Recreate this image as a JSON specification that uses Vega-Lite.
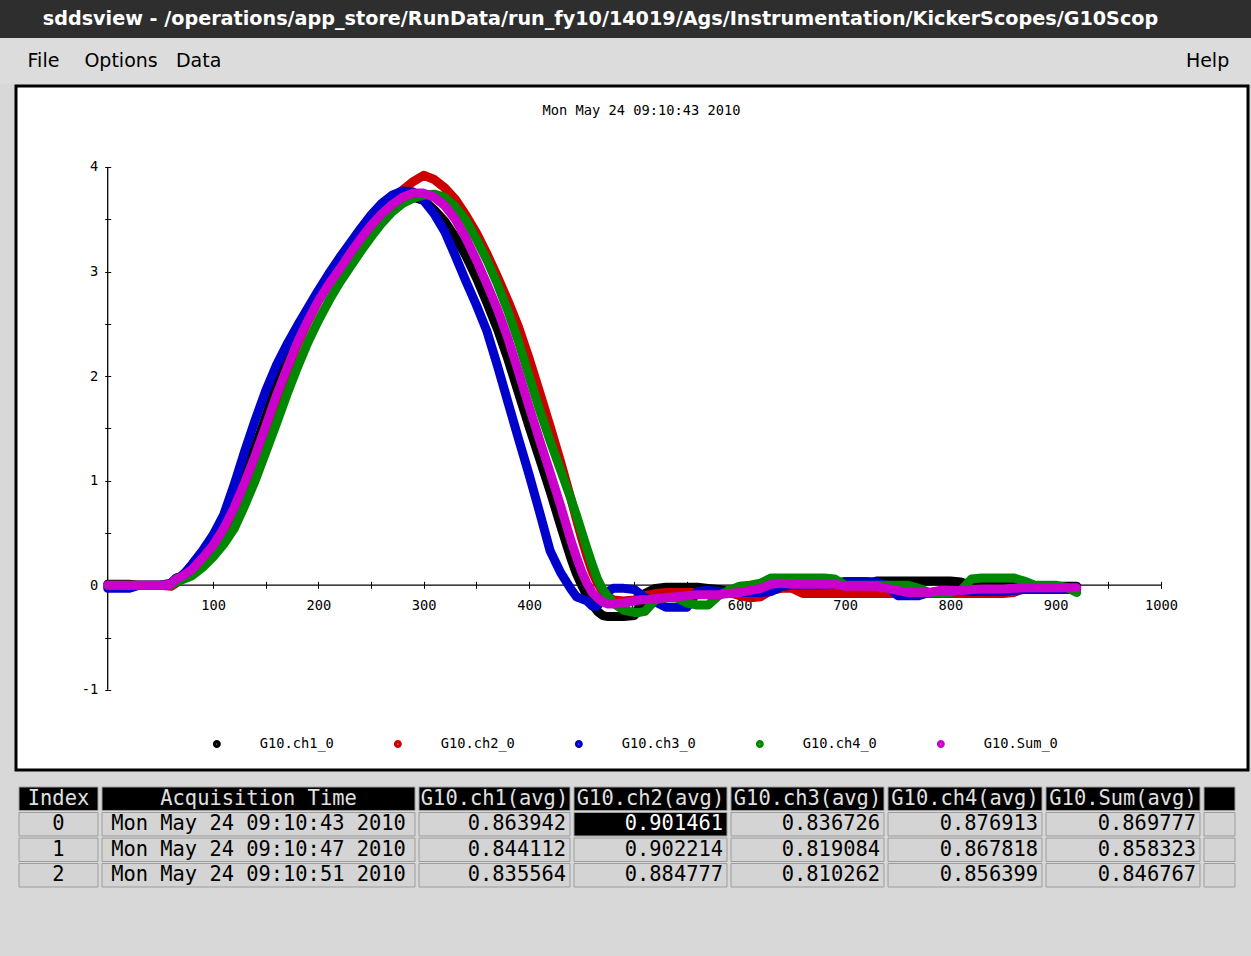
{
  "$schema": "https://vega.github.io/schema/vega-lite/v6.json",
  "background": "#d8d8d8",
  "padding": 0,
  "spacing": 0,
  "config": {"view": {"stroke": null}, "concat": {"spacing": 0}, "font": "DejaVu Sans Mono"},
  "datasets": {
    "wave": [
      {"t":0,"ch1":0.01,"ch2":0,"ch3":-0.03,"ch4":0,"sum":0},
      {"t":10,"ch1":0.01,"ch2":0,"ch3":-0.03,"ch4":0,"sum":0},
      {"t":20,"ch1":0.01,"ch2":0,"ch3":-0.03,"ch4":0,"sum":0},
      {"t":30,"ch1":0,"ch2":0,"ch3":0,"ch4":0,"sum":0},
      {"t":40,"ch1":0,"ch2":0,"ch3":0,"ch4":0,"sum":0},
      {"t":50,"ch1":0,"ch2":0,"ch3":0,"ch4":0,"sum":0},
      {"t":60,"ch1":0.01,"ch2":-0.01,"ch3":0.02,"ch4":0,"sum":0.01},
      {"t":65,"ch1":0.06,"ch2":0.02,"ch3":0.07,"ch4":0.03,"sum":0.06},
      {"t":70,"ch1":0.09,"ch2":0.07,"ch3":0.08,"ch4":0.05,"sum":0.08},
      {"t":80,"ch1":0.17,"ch2":0.13,"ch3":0.20,"ch4":0.09,"sum":0.15},
      {"t":90,"ch1":0.29,"ch2":0.23,"ch3":0.33,"ch4":0.17,"sum":0.26},
      {"t":100,"ch1":0.42,"ch2":0.35,"ch3":0.48,"ch4":0.27,"sum":0.38},
      {"t":110,"ch1":0.59,"ch2":0.50,"ch3":0.67,"ch4":0.39,"sum":0.54},
      {"t":120,"ch1":0.81,"ch2":0.69,"ch3":0.96,"ch4":0.54,"sum":0.74},
      {"t":130,"ch1":1.05,"ch2":0.92,"ch3":1.28,"ch4":0.76,"sum":0.98},
      {"t":140,"ch1":1.32,"ch2":1.17,"ch3":1.58,"ch4":1.00,"sum":1.24},
      {"t":150,"ch1":1.61,"ch2":1.45,"ch3":1.86,"ch4":1.27,"sum":1.52},
      {"t":160,"ch1":1.91,"ch2":1.75,"ch3":2.10,"ch4":1.54,"sum":1.81},
      {"t":170,"ch1":2.16,"ch2":2.04,"ch3":2.30,"ch4":1.82,"sum":2.07},
      {"t":180,"ch1":2.39,"ch2":2.30,"ch3":2.48,"ch4":2.08,"sum":2.32},
      {"t":190,"ch1":2.60,"ch2":2.52,"ch3":2.65,"ch4":2.32,"sum":2.53},
      {"t":200,"ch1":2.78,"ch2":2.72,"ch3":2.82,"ch4":2.53,"sum":2.72},
      {"t":210,"ch1":2.94,"ch2":2.89,"ch3":2.98,"ch4":2.72,"sum":2.88},
      {"t":220,"ch1":3.08,"ch2":3.03,"ch3":3.13,"ch4":2.89,"sum":3.02},
      {"t":230,"ch1":3.22,"ch2":3.19,"ch3":3.27,"ch4":3.04,"sum":3.17},
      {"t":240,"ch1":3.36,"ch2":3.34,"ch3":3.41,"ch4":3.19,"sum":3.31},
      {"t":250,"ch1":3.48,"ch2":3.48,"ch3":3.54,"ch4":3.33,"sum":3.44},
      {"t":260,"ch1":3.58,"ch2":3.60,"ch3":3.65,"ch4":3.46,"sum":3.55},
      {"t":270,"ch1":3.65,"ch2":3.70,"ch3":3.73,"ch4":3.57,"sum":3.64},
      {"t":280,"ch1":3.70,"ch2":3.78,"ch3":3.77,"ch4":3.65,"sum":3.71},
      {"t":290,"ch1":3.71,"ch2":3.86,"ch3":3.76,"ch4":3.70,"sum":3.75},
      {"t":300,"ch1":3.68,"ch2":3.92,"ch3":3.68,"ch4":3.73,"sum":3.75},
      {"t":310,"ch1":3.59,"ch2":3.88,"ch3":3.55,"ch4":3.74,"sum":3.71},
      {"t":320,"ch1":3.48,"ch2":3.80,"ch3":3.38,"ch4":3.71,"sum":3.63},
      {"t":330,"ch1":3.33,"ch2":3.69,"ch3":3.15,"ch4":3.62,"sum":3.50},
      {"t":340,"ch1":3.15,"ch2":3.54,"ch3":2.91,"ch4":3.49,"sum":3.32},
      {"t":350,"ch1":2.94,"ch2":3.37,"ch3":2.68,"ch4":3.31,"sum":3.11},
      {"t":360,"ch1":2.70,"ch2":3.17,"ch3":2.43,"ch4":3.11,"sum":2.88},
      {"t":370,"ch1":2.45,"ch2":2.95,"ch3":2.10,"ch4":2.88,"sum":2.64},
      {"t":380,"ch1":2.16,"ch2":2.72,"ch3":1.75,"ch4":2.62,"sum":2.36},
      {"t":390,"ch1":1.84,"ch2":2.47,"ch3":1.40,"ch4":2.33,"sum":2.04},
      {"t":400,"ch1":1.52,"ch2":2.17,"ch3":1.06,"ch4":2.00,"sum":1.71},
      {"t":410,"ch1":1.21,"ch2":1.85,"ch3":0.70,"ch4":1.68,"sum":1.39},
      {"t":420,"ch1":0.90,"ch2":1.52,"ch3":0.33,"ch4":1.38,"sum":1.08},
      {"t":430,"ch1":0.57,"ch2":1.18,"ch3":0.12,"ch4":1.10,"sum":0.76},
      {"t":440,"ch1":0.25,"ch2":0.82,"ch3":-0.04,"ch4":0.82,"sum":0.42},
      {"t":445,"ch1":0.11,"ch2":0.63,"ch3":-0.11,"ch4":0.67,"sum":0.27},
      {"t":450,"ch1":0.00,"ch2":0.45,"ch3":-0.13,"ch4":0.51,"sum":0.13},
      {"t":455,"ch1":-0.10,"ch2":0.28,"ch3":-0.15,"ch4":0.35,"sum":0.02},
      {"t":460,"ch1":-0.18,"ch2":0.13,"ch3":-0.20,"ch4":0.20,"sum":-0.07},
      {"t":465,"ch1":-0.25,"ch2":0.02,"ch3":-0.20,"ch4":0.06,"sum":-0.12},
      {"t":470,"ch1":-0.29,"ch2":-0.06,"ch3":-0.12,"ch4":-0.04,"sum":-0.16},
      {"t":475,"ch1":-0.30,"ch2":-0.11,"ch3":-0.06,"ch4":-0.11,"sum":-0.18},
      {"t":480,"ch1":-0.30,"ch2":-0.14,"ch3":-0.03,"ch4":-0.17,"sum":-0.18},
      {"t":490,"ch1":-0.30,"ch2":-0.15,"ch3":-0.03,"ch4":-0.24,"sum":-0.17},
      {"t":500,"ch1":-0.29,"ch2":-0.14,"ch3":-0.04,"ch4":-0.26,"sum":-0.15},
      {"t":505,"ch1":-0.20,"ch2":-0.12,"ch3":-0.08,"ch4":-0.26,"sum":-0.14},
      {"t":510,"ch1":-0.08,"ch2":-0.10,"ch3":-0.12,"ch4":-0.25,"sum":-0.14},
      {"t":520,"ch1":-0.03,"ch2":-0.08,"ch3":-0.16,"ch4":-0.14,"sum":-0.13},
      {"t":530,"ch1":-0.02,"ch2":-0.07,"ch3":-0.21,"ch4":-0.12,"sum":-0.12},
      {"t":540,"ch1":-0.02,"ch2":-0.07,"ch3":-0.21,"ch4":-0.12,"sum":-0.11},
      {"t":550,"ch1":-0.02,"ch2":-0.07,"ch3":-0.21,"ch4":-0.17,"sum":-0.10},
      {"t":560,"ch1":-0.02,"ch2":-0.07,"ch3":-0.06,"ch4":-0.19,"sum":-0.09},
      {"t":570,"ch1":-0.03,"ch2":-0.07,"ch3":-0.05,"ch4":-0.19,"sum":-0.09},
      {"t":580,"ch1":-0.04,"ch2":-0.07,"ch3":-0.06,"ch4":-0.10,"sum":-0.09},
      {"t":590,"ch1":-0.06,"ch2":-0.07,"ch3":-0.07,"ch4":-0.05,"sum":-0.08},
      {"t":600,"ch1":-0.06,"ch2":-0.10,"ch3":-0.07,"ch4":-0.01,"sum":-0.07},
      {"t":610,"ch1":-0.04,"ch2":-0.12,"ch3":-0.07,"ch4":0.00,"sum":-0.05},
      {"t":620,"ch1":-0.02,"ch2":-0.11,"ch3":-0.07,"ch4":0.02,"sum":-0.03},
      {"t":630,"ch1":0.00,"ch2":-0.05,"ch3":-0.06,"ch4":0.07,"sum":0.01},
      {"t":640,"ch1":0.00,"ch2":-0.03,"ch3":-0.01,"ch4":0.07,"sum":0.02},
      {"t":650,"ch1":0.00,"ch2":-0.03,"ch3":0.00,"ch4":0.07,"sum":0.01},
      {"t":660,"ch1":0.00,"ch2":-0.08,"ch3":0.00,"ch4":0.07,"sum":0.01},
      {"t":670,"ch1":0.00,"ch2":-0.08,"ch3":0.00,"ch4":0.07,"sum":0.01},
      {"t":680,"ch1":0.00,"ch2":-0.08,"ch3":0.00,"ch4":0.07,"sum":0.01},
      {"t":690,"ch1":0.00,"ch2":-0.08,"ch3":0.02,"ch4":0.06,"sum":0.01},
      {"t":700,"ch1":0.00,"ch2":-0.08,"ch3":0.035,"ch4":0.00,"sum":-0.01},
      {"t":710,"ch1":0.00,"ch2":-0.08,"ch3":0.035,"ch4":0.00,"sum":-0.01},
      {"t":720,"ch1":0.01,"ch2":-0.08,"ch3":0.035,"ch4":0.00,"sum":-0.01},
      {"t":730,"ch1":0.04,"ch2":-0.08,"ch3":0.03,"ch4":0.00,"sum":-0.01},
      {"t":740,"ch1":0.04,"ch2":-0.08,"ch3":0.00,"ch4":0.00,"sum":-0.03},
      {"t":750,"ch1":0.04,"ch2":-0.08,"ch3":-0.10,"ch4":0.00,"sum":-0.05},
      {"t":760,"ch1":0.04,"ch2":-0.08,"ch3":-0.10,"ch4":0.00,"sum":-0.07},
      {"t":770,"ch1":0.04,"ch2":-0.08,"ch3":-0.10,"ch4":-0.03,"sum":-0.07},
      {"t":780,"ch1":0.04,"ch2":-0.08,"ch3":-0.07,"ch4":-0.07,"sum":-0.07},
      {"t":790,"ch1":0.04,"ch2":-0.08,"ch3":-0.06,"ch4":-0.07,"sum":-0.05},
      {"t":800,"ch1":0.04,"ch2":-0.08,"ch3":-0.06,"ch4":-0.07,"sum":-0.05},
      {"t":810,"ch1":0.03,"ch2":-0.08,"ch3":-0.06,"ch4":-0.05,"sum":-0.05},
      {"t":820,"ch1":0.00,"ch2":-0.08,"ch3":-0.06,"ch4":0.06,"sum":-0.04},
      {"t":830,"ch1":-0.01,"ch2":-0.08,"ch3":-0.06,"ch4":0.07,"sum":-0.035},
      {"t":840,"ch1":-0.01,"ch2":-0.08,"ch3":-0.06,"ch4":0.07,"sum":-0.035},
      {"t":850,"ch1":-0.01,"ch2":-0.08,"ch3":-0.06,"ch4":0.07,"sum":-0.035},
      {"t":860,"ch1":-0.01,"ch2":-0.07,"ch3":-0.05,"ch4":0.07,"sum":-0.03},
      {"t":870,"ch1":-0.01,"ch2":-0.03,"ch3":-0.04,"ch4":0.04,"sum":-0.025},
      {"t":880,"ch1":-0.01,"ch2":-0.03,"ch3":-0.04,"ch4":0.00,"sum":-0.025},
      {"t":890,"ch1":-0.01,"ch2":-0.03,"ch3":-0.04,"ch4":0.00,"sum":-0.025},
      {"t":900,"ch1":-0.01,"ch2":-0.03,"ch3":-0.04,"ch4":0.00,"sum":-0.025},
      {"t":910,"ch1":-0.01,"ch2":-0.03,"ch3":-0.04,"ch4":-0.02,"sum":-0.025},
      {"t":920,"ch1":-0.01,"ch2":-0.03,"ch3":-0.04,"ch4":-0.07,"sum":-0.025}
    ],
    "menu": [{"item":"File"},{"item":"Options"},{"item":"Data"},{"item":"Help"}],
    "table": [
      {"col":"Index","row":"h","kind":"header","label":"Index"},
      {"col":"Index","row":"0","kind":"cell","label":"0"},
      {"col":"Index","row":"1","kind":"cell","label":"1"},
      {"col":"Index","row":"2","kind":"cell","label":"2"},
      {"col":"Time","row":"h","kind":"header","label":"Acquisition Time"},
      {"col":"Time","row":"0","kind":"cell","label":"Mon May 24 09:10:43 2010"},
      {"col":"Time","row":"1","kind":"cell","label":"Mon May 24 09:10:47 2010"},
      {"col":"Time","row":"2","kind":"cell","label":"Mon May 24 09:10:51 2010"},
      {"col":"ch1","row":"h","kind":"header","label":"G10.ch1(avg)"},
      {"col":"ch1","row":"0","kind":"cell","label":"0.863942"},
      {"col":"ch1","row":"1","kind":"cell","label":"0.844112"},
      {"col":"ch1","row":"2","kind":"cell","label":"0.835564"},
      {"col":"ch2","row":"h","kind":"header","label":"G10.ch2(avg)"},
      {"col":"ch2","row":"0","kind":"selected","label":"0.901461"},
      {"col":"ch2","row":"1","kind":"cell","label":"0.902214"},
      {"col":"ch2","row":"2","kind":"cell","label":"0.884777"},
      {"col":"ch3","row":"h","kind":"header","label":"G10.ch3(avg)"},
      {"col":"ch3","row":"0","kind":"cell","label":"0.836726"},
      {"col":"ch3","row":"1","kind":"cell","label":"0.819084"},
      {"col":"ch3","row":"2","kind":"cell","label":"0.810262"},
      {"col":"ch4","row":"h","kind":"header","label":"G10.ch4(avg)"},
      {"col":"ch4","row":"0","kind":"cell","label":"0.876913"},
      {"col":"ch4","row":"1","kind":"cell","label":"0.867818"},
      {"col":"ch4","row":"2","kind":"cell","label":"0.856399"},
      {"col":"Sum","row":"h","kind":"header","label":"G10.Sum(avg)"},
      {"col":"Sum","row":"0","kind":"cell","label":"0.869777"},
      {"col":"Sum","row":"1","kind":"cell","label":"0.858323"},
      {"col":"Sum","row":"2","kind":"cell","label":"0.846767"},
      {"col":"blank","row":"h","kind":"header","label":""},
      {"col":"blank","row":"0","kind":"cell","label":""},
      {"col":"blank","row":"1","kind":"cell","label":""},
      {"col":"blank","row":"2","kind":"cell","label":""}
    ]
  },
  "vconcat": [
    {
      "width": 1251, "height": 38,
      "view": {"fill": "#2e2e2e"},
      "data": {"values": [{"t": "sddsview - /operations/app_store/RunData/run_fy10/14019/Ags/Instrumentation/KickerScopes/G10Scop"}]},
      "mark": {"type": "text", "font": "DejaVu Sans", "fontWeight": "bold", "fontSize": 19.2, "color": "#ffffff", "dx": -25},
      "encoding": {"text": {"field": "t"}}
    },
    {
      "width": 1251, "height": 46,
      "view": {"fill": "#dcdcdc"},
      "data": {"name": "menu"},
      "mark": {"type": "text", "font": "DejaVu Sans", "fontSize": 19, "color": "#000000"},
      "encoding": {
        "x": {"field": "item", "type": "nominal", "axis": null,
              "scale": {"type": "point", "padding": 0.56,
                        "domain": ["File","Options","Data","_4","_5","_6","_7","_8","_9","_10","_11","_12","_13","_14","_15","Help"]}},
        "text": {"field": "item"}
      }
    },
    {
      "hconcat": [
        {"width": 14, "height": 700, "data": {"values": []}, "mark": "point"},
        {
          "width": 1232, "height": 684,
          "view": {"fill": "#ffffff", "stroke": "#000000", "strokeWidth": 3},
          "title": {"text": "Mon May 24 09:10:43 2010", "font": "DejaVu Sans Mono", "fontSize": 13.7, "fontWeight": "normal", "color": "#000000", "anchor": "middle", "baseline": "middle", "frame": "group", "offset": -39, "dx": 9.5},
          "resolve": {"axis": {"x": "independent", "y": "independent"}},
          "layer": [
            {
              "data": {"values": [{}]},
              "mark": {"type": "rule", "color": "#000000", "strokeWidth": 1.3},
              "encoding": {
                "x": {"datum": 0, "type": "quantitative",
                      "scale": {"domain": [-87.06, 1082.6], "nice": false, "zero": false},
                      "axis": {"orient": "bottom", "offset": -184.7, "values": [50,100,150,200,250,300,350,400,450,500,550,600,650,700,750,800,850,900,950,1000],
                               "labelExpr": "datum.value % 100 == 0 ? '' + datum.value : ''", "domain": false, "grid": false,
                               "tickSize": 3, "tickColor": "#000000", "labelFont": "DejaVu Sans Mono", "labelFontSize": 13.7, "labelColor": "#000000",
                               "labelPadding": 10, "labelFlush": false, "labelOverlap": false, "title": null}},
                "x2": {"datum": 1000},
                "y": {"datum": 0, "type": "quantitative",
                      "scale": {"domain": [-1.767, 4.774], "nice": false, "zero": false},
                      "axis": {"orient": "left", "offset": -91.7, "values": [-1,-0.5,0,0.5,1,1.5,2,2.5,3,3.5,4],
                               "labelExpr": "datum.value % 1 == 0 ? '' + datum.value : ''", "domain": false, "grid": false,
                               "tickSize": 3, "tickColor": "#000000", "labelFont": "DejaVu Sans Mono", "labelFontSize": 13.7, "labelColor": "#000000",
                               "labelPadding": 7, "labelFlush": false, "labelOverlap": false, "title": null}}
              }
            },
            {
              "data": {"values": [{}]},
              "mark": {"type": "rule", "color": "#000000", "strokeWidth": 1.3},
              "encoding": {
                "x": {"datum": 0, "type": "quantitative",
                      "scale": {"domain": [-87.06, 1082.6], "nice": false, "zero": false},
                      "axis": {"orient": "top", "offset": -499.3, "values": [50,100,150,200,250,300,350,400,450,500,550,600,650,700,750,800,850,900,950,1000],
                               "labels": false, "domain": false, "grid": false, "tickSize": 4, "tickColor": "#000000", "title": null}},
                "y": {"datum": -1, "type": "quantitative",
                      "scale": {"domain": [-1.767, 4.774], "nice": false, "zero": false},
                      "axis": {"orient": "right", "offset": -1140.3, "values": [-1,-0.5,0,0.5,1,1.5,2,2.5,3,3.5,4],
                               "labels": false, "domain": false, "grid": false, "tickSize": 3, "tickColor": "#000000", "title": null}},
                "y2": {"datum": 4}
              }
            },
            {
              "data": {"name": "wave"},
              "transform": [{"fold": ["ch1","ch2","ch3","ch4","sum"], "as": ["series","v"]}],
              "mark": {"type": "line", "strokeWidth": 9, "strokeCap": "round", "strokeJoin": "round"},
              "encoding": {
                "x": {"field": "t", "type": "quantitative", "scale": {"domain": [-87.06, 1082.6], "nice": false, "zero": false}, "axis": null},
                "y": {"field": "v", "type": "quantitative", "scale": {"domain": [-1.767, 4.774], "nice": false, "zero": false}, "axis": null},
                "color": {"field": "series", "type": "nominal",
                          "scale": {"domain": ["ch1","ch2","ch3","ch4","sum"], "range": ["#000000","#cc0000","#0000cc","#008800","#cc00cc"]},
                          "legend": {"orient": "none", "legendX": 210, "legendY": 737, "direction": "horizontal", "title": null,
                                     "symbolType": "circle", "symbolSize": 12, "symbolStrokeWidth": 4.5,
                                     "labelFont": "DejaVu Sans Mono", "labelFontSize": 13.7, "labelColor": "#000000",
                                     "labelOffset": 36, "columnPadding": 53,
                                     "labelExpr": "'G10.' + (datum.label == 'sum' ? 'Sum' : datum.label) + '_0'"}}
              }
            }
          ]
        }
      ]
    },
    {
      "spacing": 2,
      "hconcat": [
        {"width": 16, "height": 170, "data": {"values": []}, "mark": "point"},
        {
          "width": 79, "height": 100,
          "data": {"name": "table"},
          "transform": [{"filter": {"field": "col", "equal": "Index"}}],
          "encoding": {"y": {"field": "row", "type": "ordinal", "axis": null, "scale": {"domain": ["h","0","1","2"], "paddingInner": 0.08, "paddingOuter": 0}}},
          "layer": [
            {"mark": {"type": "rect", "stroke": "#9c9c9c", "strokeWidth": 1},
             "encoding": {"fill": {"condition": {"test": "datum.kind != 'cell'", "value": "#000000"}, "value": "#d4d4d4"}}},
            {"mark": {"type": "text", "font": "DejaVu Sans Mono", "fontSize": 20.4},
             "encoding": {"text": {"field": "label"}, "color": {"condition": [{"test": "datum.kind == 'header'", "value": "#e0e0e0"}, {"test": "datum.kind == 'selected'", "value": "#ffffff"}], "value": "#000000"}}}
          ]
        },
        {
          "width": 313, "height": 100,
          "data": {"name": "table"},
          "transform": [{"filter": {"field": "col", "equal": "Time"}}],
          "encoding": {"y": {"field": "row", "type": "ordinal", "axis": null, "scale": {"domain": ["h","0","1","2"], "paddingInner": 0.08, "paddingOuter": 0}}},
          "layer": [
            {"mark": {"type": "rect", "stroke": "#9c9c9c", "strokeWidth": 1},
             "encoding": {"fill": {"condition": {"test": "datum.kind != 'cell'", "value": "#000000"}, "value": "#d4d4d4"}}},
            {"mark": {"type": "text", "font": "DejaVu Sans Mono", "fontSize": 20.4},
             "encoding": {"text": {"field": "label"}, "color": {"condition": [{"test": "datum.kind == 'header'", "value": "#e0e0e0"}, {"test": "datum.kind == 'selected'", "value": "#ffffff"}], "value": "#000000"}}}
          ]
        },
        {
          "width": 151, "height": 100,
          "data": {"name": "table"},
          "transform": [{"filter": {"field": "col", "equal": "ch1"}}],
          "encoding": {"y": {"field": "row", "type": "ordinal", "axis": null, "scale": {"domain": ["h","0","1","2"], "paddingInner": 0.08, "paddingOuter": 0}}},
          "layer": [
            {"mark": {"type": "rect", "stroke": "#9c9c9c", "strokeWidth": 1},
             "encoding": {"fill": {"condition": {"test": "datum.kind != 'cell'", "value": "#000000"}, "value": "#d4d4d4"}}},
            {"transform": [{"filter": {"field": "kind", "equal": "header"}}],
             "mark": {"type": "text", "font": "DejaVu Sans Mono", "fontSize": 20.4, "color": "#e0e0e0"},
             "encoding": {"text": {"field": "label"}}},
            {"transform": [{"filter": {"field": "kind", "oneOf": ["cell","selected"]}}],
             "mark": {"type": "text", "font": "DejaVu Sans Mono", "fontSize": 20.4, "align": "right", "dx": -4},
             "encoding": {"x": {"value": "width"}, "text": {"field": "label"}, "color": {"condition": {"test": "datum.kind == 'selected'", "value": "#ffffff"}, "value": "#000000"}}}
          ]
        },
        {
          "width": 153, "height": 100,
          "data": {"name": "table"},
          "transform": [{"filter": {"field": "col", "equal": "ch2"}}],
          "encoding": {"y": {"field": "row", "type": "ordinal", "axis": null, "scale": {"domain": ["h","0","1","2"], "paddingInner": 0.08, "paddingOuter": 0}}},
          "layer": [
            {"mark": {"type": "rect", "stroke": "#9c9c9c", "strokeWidth": 1},
             "encoding": {"fill": {"condition": {"test": "datum.kind != 'cell'", "value": "#000000"}, "value": "#d4d4d4"}}},
            {"transform": [{"filter": {"field": "kind", "equal": "header"}}],
             "mark": {"type": "text", "font": "DejaVu Sans Mono", "fontSize": 20.4, "color": "#e0e0e0"},
             "encoding": {"text": {"field": "label"}}},
            {"transform": [{"filter": {"field": "kind", "oneOf": ["cell","selected"]}}],
             "mark": {"type": "text", "font": "DejaVu Sans Mono", "fontSize": 20.4, "align": "right", "dx": -4},
             "encoding": {"x": {"value": "width"}, "text": {"field": "label"}, "color": {"condition": {"test": "datum.kind == 'selected'", "value": "#ffffff"}, "value": "#000000"}}}
          ]
        },
        {
          "width": 153, "height": 100,
          "data": {"name": "table"},
          "transform": [{"filter": {"field": "col", "equal": "ch3"}}],
          "encoding": {"y": {"field": "row", "type": "ordinal", "axis": null, "scale": {"domain": ["h","0","1","2"], "paddingInner": 0.08, "paddingOuter": 0}}},
          "layer": [
            {"mark": {"type": "rect", "stroke": "#9c9c9c", "strokeWidth": 1},
             "encoding": {"fill": {"condition": {"test": "datum.kind != 'cell'", "value": "#000000"}, "value": "#d4d4d4"}}},
            {"transform": [{"filter": {"field": "kind", "equal": "header"}}],
             "mark": {"type": "text", "font": "DejaVu Sans Mono", "fontSize": 20.4, "color": "#e0e0e0"},
             "encoding": {"text": {"field": "label"}}},
            {"transform": [{"filter": {"field": "kind", "oneOf": ["cell","selected"]}}],
             "mark": {"type": "text", "font": "DejaVu Sans Mono", "fontSize": 20.4, "align": "right", "dx": -4},
             "encoding": {"x": {"value": "width"}, "text": {"field": "label"}, "color": {"condition": {"test": "datum.kind == 'selected'", "value": "#ffffff"}, "value": "#000000"}}}
          ]
        },
        {
          "width": 154, "height": 100,
          "data": {"name": "table"},
          "transform": [{"filter": {"field": "col", "equal": "ch4"}}],
          "encoding": {"y": {"field": "row", "type": "ordinal", "axis": null, "scale": {"domain": ["h","0","1","2"], "paddingInner": 0.08, "paddingOuter": 0}}},
          "layer": [
            {"mark": {"type": "rect", "stroke": "#9c9c9c", "strokeWidth": 1},
             "encoding": {"fill": {"condition": {"test": "datum.kind != 'cell'", "value": "#000000"}, "value": "#d4d4d4"}}},
            {"transform": [{"filter": {"field": "kind", "equal": "header"}}],
             "mark": {"type": "text", "font": "DejaVu Sans Mono", "fontSize": 20.4, "color": "#e0e0e0"},
             "encoding": {"text": {"field": "label"}}},
            {"transform": [{"filter": {"field": "kind", "oneOf": ["cell","selected"]}}],
             "mark": {"type": "text", "font": "DejaVu Sans Mono", "fontSize": 20.4, "align": "right", "dx": -4},
             "encoding": {"x": {"value": "width"}, "text": {"field": "label"}, "color": {"condition": {"test": "datum.kind == 'selected'", "value": "#ffffff"}, "value": "#000000"}}}
          ]
        },
        {
          "width": 154, "height": 100,
          "data": {"name": "table"},
          "transform": [{"filter": {"field": "col", "equal": "Sum"}}],
          "encoding": {"y": {"field": "row", "type": "ordinal", "axis": null, "scale": {"domain": ["h","0","1","2"], "paddingInner": 0.08, "paddingOuter": 0}}},
          "layer": [
            {"mark": {"type": "rect", "stroke": "#9c9c9c", "strokeWidth": 1},
             "encoding": {"fill": {"condition": {"test": "datum.kind != 'cell'", "value": "#000000"}, "value": "#d4d4d4"}}},
            {"transform": [{"filter": {"field": "kind", "equal": "header"}}],
             "mark": {"type": "text", "font": "DejaVu Sans Mono", "fontSize": 20.4, "color": "#e0e0e0"},
             "encoding": {"text": {"field": "label"}}},
            {"transform": [{"filter": {"field": "kind", "oneOf": ["cell","selected"]}}],
             "mark": {"type": "text", "font": "DejaVu Sans Mono", "fontSize": 20.4, "align": "right", "dx": -4},
             "encoding": {"x": {"value": "width"}, "text": {"field": "label"}, "color": {"condition": {"test": "datum.kind == 'selected'", "value": "#ffffff"}, "value": "#000000"}}}
          ]
        },
        {
          "width": 31, "height": 100,
          "data": {"name": "table"},
          "transform": [{"filter": {"field": "col", "equal": "blank"}}],
          "mark": {"type": "rect", "stroke": "#9c9c9c", "strokeWidth": 1},
          "encoding": {
            "y": {"field": "row", "type": "ordinal", "axis": null, "scale": {"domain": ["h","0","1","2"], "paddingInner": 0.08, "paddingOuter": 0}},
            "fill": {"condition": {"test": "datum.kind != 'cell'", "value": "#000000"}, "value": "#d4d4d4"}
          }
        }
      ]
    }
  ]
}
